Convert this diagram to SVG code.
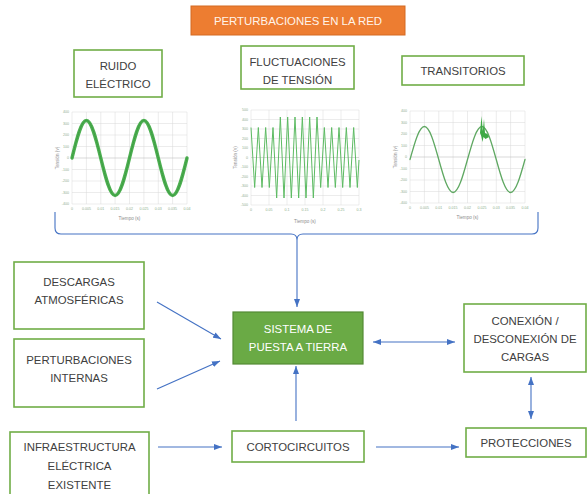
<svg xmlns="http://www.w3.org/2000/svg" width="588" height="494" viewBox="0 0 588 494">
  <style>
    .box { fill: #ffffff; stroke: #70AD47; stroke-width: 1.6; }
    .lbl { font-family: "Liberation Sans", Arial, sans-serif; font-size: 11.4px; fill: #404040; text-anchor: middle; }
    .grid { stroke: #D9D9D9; stroke-width: 0.5; fill: none; }
    .tick { font-family: "Liberation Sans", Arial, sans-serif; font-size: 3.6px; fill: #8FB08F; }
    .axt { font-family: "Liberation Sans", Arial, sans-serif; font-size: 4.6px; fill: #8C8C8C; text-anchor: middle; }
    .conn { stroke: #4472C4; stroke-width: 1.1; fill: none; }
    .wave { fill: none; stroke-linecap: round; }
  </style>
  <defs>
    <marker id="arrow" viewBox="0 0 8 6" refX="8" refY="3" markerWidth="8" markerHeight="6" markerUnits="userSpaceOnUse" orient="auto-start-reverse">
      <path d="M0,0 L8,3 L0,6 z" fill="#4472C4"/>
    </marker>
  </defs>

  <rect width="588" height="494" fill="#ffffff"/>

  <!-- header -->
  <g id="title">
    <rect x="191" y="6" width="214" height="29" fill="#ED7D31" stroke="#D46A22" stroke-width="1"/>
    <text x="298" y="25" class="lbl" style="fill:#FFF4EA">PERTURBACIONES EN LA RED</text>
  </g>

  <!-- disturbance categories -->
  <g id="ruido">
    <rect class="box" x="74" y="50" width="88" height="47"/>
    <text class="lbl" x="118" y="70">RUIDO</text>
    <text class="lbl" x="118" y="88">ELÉCTRICO</text>
  </g>
  <g id="fluctuaciones">
    <rect class="box" x="241" y="46" width="113" height="43"/>
    <text class="lbl" x="297.5" y="66">FLUCTUACIONES</text>
    <text class="lbl" x="297.5" y="84">DE TENSIÓN</text>
  </g>
  <g id="transitorios">
    <rect class="box" x="402" y="56" width="122" height="29"/>
    <text class="lbl" x="463" y="75">TRANSITORIOS</text>
  </g>

  <!-- chart: electrical noise -->
  <g id="chart-ruido">
    <path class="grid" d="M72,112V204M86.4,112V204M100.8,112V204M115.1,112V204M129.5,112V204M143.9,112V204M158.3,112V204M172.6,112V204M187,112V204
      M72,112H187M72,123.5H187M72,135H187M72,146.5H187M72,169.5H187M72,181H187M72,192.5H187M72,204H187"/>
    <path d="M72,158H187" stroke="#BFBFBF" stroke-width="0.6"/>
    <g class="tick" text-anchor="end">
      <text x="69" y="113">400</text><text x="69" y="124.5">300</text><text x="69" y="136">200</text>
      <text x="69" y="147.5">100</text><text x="69" y="159">0</text><text x="69" y="170.5">-100</text>
      <text x="69" y="182">-200</text><text x="69" y="193.5">-300</text><text x="69" y="205">-400</text>
    </g>
    <g class="tick" text-anchor="middle">
      <text x="72" y="209.5">0</text><text x="86.4" y="209.5">0.005</text><text x="100.8" y="209.5">0.01</text>
      <text x="115.1" y="209.5">0.015</text><text x="129.5" y="209.5">0.02</text><text x="143.9" y="209.5">0.025</text>
      <text x="158.3" y="209.5">0.03</text><text x="172.6" y="209.5">0.035</text><text x="187" y="209.5">0.04</text>
    </g>
    <text class="axt" x="129.5" y="220">Tiempo (s)</text>
    <text class="axt" transform="translate(59,158) rotate(-90)">Tensión (v)</text>
    <path class="wave" stroke="#4CAF50" stroke-width="3.4" d="M72,158 C76.69,138.8 81.17,120.5 86.38,120.5 S96.06,138.8 100.75,158 S109.92,195.5 115.13,195.5 S124.81,177.2 129.5,158 S138.67,120.5 143.88,120.5 S153.56,138.8 158.25,158 S167.42,195.5 172.63,195.5 S182.31,177.2 187,158"/>
    <path class="wave" stroke="#3A9640" stroke-width="0.9" stroke-dasharray="0.8 1.2" d="M72,158 C76.69,138.8 81.17,120.5 86.38,120.5 S96.06,138.8 100.75,158 S109.92,195.5 115.13,195.5 S124.81,177.2 129.5,158 S138.67,120.5 143.88,120.5 S153.56,138.8 158.25,158 S167.42,195.5 172.63,195.5 S182.31,177.2 187,158"/>
  </g>

  <!-- chart: voltage fluctuations -->
  <g id="chart-fluct">
    <path class="grid" d="M251,110V205M269,110V205M287,110V205M305,110V205M323,110V205M341,110V205M359,110V205
      M251,110H359M251,119.5H359M251,129H359M251,138.5H359M251,148H359M251,167H359M251,176.5H359M251,186H359M251,195.5H359M251,205H359"/>
    <path d="M251,157.5H359" stroke="#BFBFBF" stroke-width="0.6"/>
    <g class="tick" text-anchor="end">
      <text x="248" y="111">500</text><text x="248" y="120.5">400</text><text x="248" y="130">300</text>
      <text x="248" y="139.5">200</text><text x="248" y="149">100</text><text x="248" y="158.5">0</text>
      <text x="248" y="168">-100</text><text x="248" y="177.5">-200</text><text x="248" y="187">-300</text>
      <text x="248" y="196.5">-400</text><text x="248" y="206">-500</text>
    </g>
    <g class="tick" text-anchor="middle">
      <text x="251" y="211">0</text><text x="269" y="211">0.05</text><text x="287" y="211">0.1</text>
      <text x="305" y="211">0.15</text><text x="323" y="211">0.2</text><text x="341" y="211">0.25</text>
      <text x="359" y="211">0.3</text>
    </g>
    <text class="axt" x="305" y="223">Tiempo (s)</text>
    <text class="axt" transform="translate(237,157.5) rotate(-90)">Tensión (v)</text>
    <polyline fill="none" stroke="#5DBB63" stroke-width="1" stroke-linejoin="round" points="251,127.5 254.67,187.5 258.33,127.5 262,187.5 265.67,127.5 269.33,187.5 273,127.5 276.67,198 280.33,117 284,198 287.67,117 291.33,198 295,117 298.67,198 302.33,117 306,198 309.67,117 313.33,198 317,117 320.67,187.5 324.33,127.5 328,187.5 331.67,127.5 335.33,187.5 339,127.5 342.67,187.5 346.33,127.5 350,187.5 353.67,127.5 357.33,187.5 359,160"/>
  </g>

  <!-- chart: transients -->
  <g id="chart-trans">
    <path class="grid" d="M410,111V203M424.4,111V203M438.8,111V203M453.1,111V203M467.5,111V203M481.9,111V203M496.3,111V203M510.6,111V203M525,111V203
      M410,111H525M410,122.5H525M410,134H525M410,145.5H525M410,168.5H525M410,180H525M410,191.5H525M410,203H525"/>
    <path d="M410,157H525" stroke="#BFBFBF" stroke-width="0.6"/>
    <g class="tick" text-anchor="end">
      <text x="407" y="112">400</text><text x="407" y="123.5">300</text><text x="407" y="135">200</text>
      <text x="407" y="146.5">100</text><text x="407" y="158">0</text><text x="407" y="169.5">-100</text>
      <text x="407" y="181">-200</text><text x="407" y="192.5">-300</text><text x="407" y="204">-400</text>
    </g>
    <g class="tick" text-anchor="middle">
      <text x="410" y="208.5">0</text><text x="424.4" y="208.5">0.005</text><text x="438.8" y="208.5">0.01</text>
      <text x="453.1" y="208.5">0.015</text><text x="467.5" y="208.5">0.02</text><text x="481.9" y="208.5">0.025</text>
      <text x="496.3" y="208.5">0.03</text><text x="510.6" y="208.5">0.035</text><text x="525" y="208.5">0.04</text>
    </g>
    <text class="axt" x="467.5" y="219">Tiempo (s)</text>
    <text class="axt" transform="translate(397,157) rotate(-90)">Tensión (v)</text>
    <path class="wave" stroke="#5FA862" stroke-width="1.3" d="M410,159.5 C414.69,142.6 419.17,126.5 424.38,126.5 S434.06,142.6 438.75,159.5 S447.92,192.5 453.13,192.5 S462.81,176.4 467.5,159.5 S476.67,126.5 481.88,126.5 S491.56,142.6 496.25,159.5 S505.42,192.5 510.63,192.5 S520.31,176.4 525,159.5"/>
    <path d="M480,133 L481.5,116 L482.8,131 L484,119 L485,133 L487.5,134 L489,137 L485.5,139 L483.5,137 L482.5,142 L481.2,136 z" fill="#3DAA45"/>
  </g>

  <!-- main flow nodes -->
  <g id="descargas">
    <rect class="box" x="14" y="262" width="130" height="67"/>
    <text class="lbl" x="79" y="286">DESCARGAS</text>
    <text class="lbl" x="79" y="304">ATMOSFÉRICAS</text>
  </g>
  <g id="perturbaciones">
    <rect class="box" x="14" y="339" width="130" height="68"/>
    <text class="lbl" x="79" y="364">PERTURBACIONES</text>
    <text class="lbl" x="79" y="382">INTERNAS</text>
  </g>
  <g id="infraestructura">
    <rect class="box" x="10" y="432" width="139" height="70"/>
    <text class="lbl" x="79.5" y="451">INFRAESTRUCTURA</text>
    <text class="lbl" x="79.5" y="470">ELÉCTRICA</text>
    <text class="lbl" x="79.5" y="489">EXISTENTE</text>
  </g>
  <g id="sistema">
    <rect x="233" y="312" width="130" height="52" fill="#6AAA45" stroke="#548A35" stroke-width="1.2"/>
    <text class="lbl" x="298" y="333" style="fill:#ffffff">SISTEMA DE</text>
    <text class="lbl" x="298" y="351" style="fill:#ffffff">PUESTA A TIERRA</text>
  </g>
  <g id="cortocircuitos">
    <rect class="box" x="232" y="431" width="132" height="31"/>
    <text class="lbl" x="298" y="451">CORTOCIRCUITOS</text>
  </g>
  <g id="conexion">
    <rect class="box" x="464" y="304" width="122" height="68"/>
    <text class="lbl" x="525" y="325">CONEXIÓN /</text>
    <text class="lbl" x="525" y="343">DESCONEXIÓN DE</text>
    <text class="lbl" x="525" y="361">CARGAS</text>
  </g>
  <g id="protecciones">
    <rect class="box" x="466" y="428" width="120" height="29"/>
    <text class="lbl" x="526" y="447">PROTECCIONES</text>
  </g>

  <!-- connectors -->
  <g id="connectors">
    <path class="conn" d="M55,212 L55,228 Q55,234 61,234 L291,234 Q297,234 297,240 Q297,234 303,234 L532,234 Q538,234 538,228 L538,212"/>
    <line class="conn" x1="297" y1="240" x2="297" y2="307" marker-end="url(#arrow)"/>
    <line class="conn" x1="157" y1="302" x2="221" y2="339" marker-end="url(#arrow)"/>
    <line class="conn" x1="157" y1="389" x2="220" y2="361" marker-end="url(#arrow)"/>
    <line class="conn" x1="158" y1="447" x2="222" y2="447" marker-end="url(#arrow)"/>
    <line class="conn" x1="296" y1="421" x2="296" y2="366" marker-end="url(#arrow)"/>
    <line class="conn" x1="373" y1="342" x2="455" y2="342" marker-start="url(#arrow)" marker-end="url(#arrow)"/>
    <line class="conn" x1="531" y1="377" x2="531" y2="419" marker-start="url(#arrow)" marker-end="url(#arrow)"/>
    <line class="conn" x1="376" y1="447" x2="459" y2="447" marker-end="url(#arrow)"/>
  </g>
</svg>
